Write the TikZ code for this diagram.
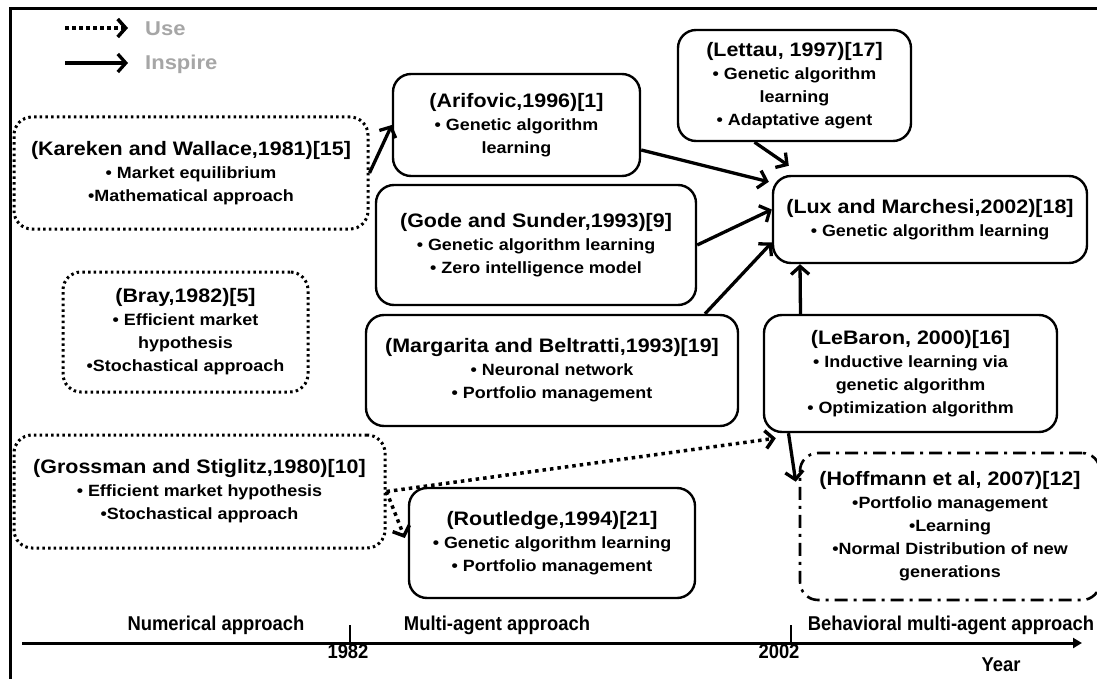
\documentclass[tikz,border=0pt]{standalone}
\usepackage{fontspec}
\setmainfont[FakeStretch=1.1]{Liberation Sans}
\newfontfamily\axfont[FakeStretch=0.92]{Liberation Sans}
\usetikzlibrary{arrows.meta,calc}
\newcommand\ttl[1]{{\fontsize{19.5}{23}\selectfont #1}}
\begin{document}
\begin{tikzpicture}[x=1pt,y=-1pt,
  box/.style={draw, line width=2.4pt, rounded corners=18pt, align=center, inner sep=0pt,
    font=\bfseries\fontsize{16.3}{23}\selectfont},
  dotbox/.style={box, line width=3pt, dash pattern=on 2.5pt off 3.2pt},
  dashdotbox/.style={box, line width=2.6pt, dash pattern=on 13pt off 6pt on 3pt off 6pt},
  inspire/.style={line width=3.3pt, -{Straight Barb[length=8pt,width=18pt]}},
  use/.style={line width=3.5pt, dash pattern=on 3.5pt off 3.5pt, -{Straight Barb[length=8pt,width=18pt]}},
  legtext/.style={anchor=west, text=black!35, font=\bfseries\fontsize{20}{24}\selectfont, inner sep=0pt},
  axlabel/.style={font=\axfont\bfseries\fontsize{20}{24}\selectfont, inner sep=0pt},
]
\useasboundingbox (0,0) rectangle (1097,679);
% frame
\coordinate (f1) at (10,679);
\coordinate (f2) at (10,9);
\coordinate (f3) at (1100,9);
\draw[line width=3pt] (f1) -- (f2) -- (f3);

% legend
\coordinate (u0) at (65,28);
\coordinate (u1) at (128,28);
\coordinate (i0) at (65,63);
\coordinate (i1) at (128,63);
\draw[use] (u0) -- (u1);
\draw[inspire] (i0) -- (i1);
\node[legtext] (useL) at (145,29) {Use};
\node[legtext] (insL) at (145,64) {Inspire};

% boxes
\node[dotbox, minimum width=354pt, minimum height=112pt] (kar) at (191,173)
  {\ttl{(Kareken and Wallace,1981)[15]}\\• Market equilibrium\\•Mathematical approach};
\node[dotbox, minimum width=245pt, minimum height=120pt] (bray) at (185.5,332)
  {\ttl{(Bray,1982)[5]}\\• Efficient market\\hypothesis\\•Stochastical approach};
\node[dotbox, minimum width=371pt, minimum height=113pt] (gro) at (199.5,491.5)
  {\ttl{(Grossman and Stiglitz,1980)[10]}\\• Efficient market hypothesis\\•Stochastical approach};
\node[box, minimum width=247pt, minimum height=102pt] (ari) at (516.5,125)
  {\ttl{(Arifovic,1996)[1]}\\• Genetic algorithm\\learning};
\node[box, minimum width=320pt, minimum height=120pt] (gode) at (536,245)
  {\ttl{(Gode and Sunder,1993)[9]}\\• Genetic algorithm learning\\• Zero intelligence model};
\node[box, minimum width=372pt, minimum height=111pt] (mar) at (552,370.5)
  {\ttl{(Margarita and Beltratti,1993)[19]}\\• Neuronal network\\• Portfolio management};
\node[box, minimum width=286pt, minimum height=110pt] (rou) at (552,543)
  {\ttl{(Routledge,1994)[21]}\\• Genetic algorithm learning\\• Portfolio management};
\node[box, minimum width=233pt, minimum height=111pt] (let) at (794.5,85.5)
  {\ttl{(Lettau, 1997)[17]}\\• Genetic algorithm\\learning\\• Adaptative agent};
\node[box, minimum width=314pt, minimum height=87pt] (lux) at (930,219.5)
  {\ttl{(Lux and Marchesi,2002)[18]}\\• Genetic algorithm learning};
\node[box, minimum width=293pt, minimum height=117pt] (leb) at (910.5,373.5)
  {\ttl{(LeBaron, 2000)[16]}\\• Inductive learning via\\genetic algorithm\\• Optimization algorithm};
\node[dashdotbox, minimum width=300pt, minimum height=147pt] (hof) at (950,526.5)
  {\ttl{(Hoffmann et al, 2007)[12]}\\•Portfolio management\\•Learning\\•Normal Distribution of new\\generations};

% connectors
\draw[inspire] (kar.east) -- (ari.west);
\draw[inspire] ([yshift=-25pt]ari.east) -- ([xshift=-3pt,yshift=-7pt]lux.north west);
\draw[inspire] ([xshift=-40pt]let.south) -- ([xshift=17pt,yshift=9pt]lux.north west);
\draw[inspire] (gode.east) -- ([yshift=10pt]lux.west);
\draw[inspire] ([xshift=153pt]mar.north) -- ([yshift=-23pt]lux.west);
\draw[inspire] ([xshift=-110pt]leb.north) -- ([xshift=-130pt]lux.south);
\draw[inspire] ([xshift=-122pt]leb.south) -- ([xshift=-3pt,yshift=-30pt]hof.north west);
\draw[use, dash pattern=on 3.5pt off 4pt] (gro.east) -- ([xshift=13pt,yshift=-5pt]leb.south west);
\draw[use, dash pattern=on 3.5pt off 4pt] (gro.east) -- ([xshift=-3pt,yshift=5pt]rou.west);

% time axis
\coordinate (ax0) at (22,643);
\coordinate (ax1) at (1082,643);
\draw[line width=3pt, -{Triangle[length=9pt,width=10pt]}] (ax0) -- (ax1);
\coordinate (t1a) at (350,625);
\coordinate (t1b) at (350,643);
\coordinate (t2a) at (791,625);
\coordinate (t2b) at (791,643);
\draw[line width=2.4pt] (t1a) -- (t1b);
\draw[line width=2.4pt] (t2a) -- (t2b);
\node[axlabel] (numL) at (216,625) {Numerical approach};
\node[axlabel] (mulL) at (497,625) {Multi-agent approach};
\node[axlabel] (behL) at (951,625) {Behavioral multi-agent approach};
\node[axlabel] (y1982) at (348,652) {1982};
\node[axlabel] (y2002) at (779,652) {2002};
\node[axlabel] (yearL) at (1001,665) {Year};
\end{tikzpicture}
\end{document}
